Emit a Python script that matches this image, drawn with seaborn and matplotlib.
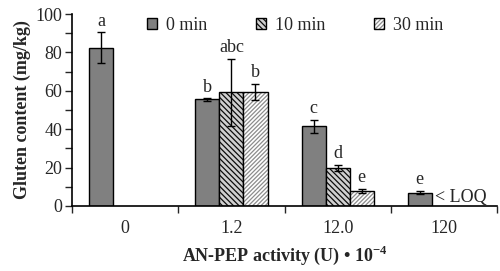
import numpy as np
import pandas as pd
import seaborn as sns
import matplotlib.pyplot as plt
from matplotlib.patches import Patch
from matplotlib.ticker import MultipleLocator, FixedLocator

# Chart data
activities = ['0', '1.2', '12.0', '120']
times = ['0 min', '10 min', '30 min']
gluten_0min = [82.5, 55.5, 41.5, 7.0]
gluten_10min = [np.nan, 59.2, 19.8, np.nan]
gluten_30min = [np.nan, 59.5, 7.8, np.nan]
err_0min = [8.0, 0.6, 3.5, 1.0]
err_10min = [np.nan, 17.5, 1.5, np.nan]
err_30min = [np.nan, 4.3, 1.3, np.nan]
letters_0min = ['a', 'b', 'c', 'e']
letters_10min = ['', 'abc', 'd', '']
letters_30min = ['', 'b', 'e', '']

values = {'0 min': gluten_0min, '10 min': gluten_10min, '30 min': gluten_30min}
errors = {'0 min': err_0min, '10 min': err_10min, '30 min': err_30min}
letters = {'0 min': letters_0min, '10 min': letters_10min, '30 min': letters_30min}

rows = []
for t in times:
    for i, a in enumerate(activities):
        rows.append({'activity': a, 'time': t, 'gluten': values[t][i]})
df = pd.DataFrame(rows)

sns.set_style('white')
plt.rcParams['font.family'] = ['Liberation Serif', 'DejaVu Serif']
plt.rcParams['mathtext.fontset'] = 'custom'
plt.rcParams['mathtext.rm'] = 'Liberation Serif'
plt.rcParams['mathtext.bf'] = 'Liberation Serif:bold'
plt.rcParams['hatch.linewidth'] = 0.9

FS = 13

fig = plt.figure(figsize=(5, 2.71), dpi=100)
ax = fig.add_axes([0.144, 0.240, 0.850, 0.708])

sns.barplot(data=df, x='activity', y='gluten', hue='time', order=activities,
            hue_order=times, width=0.68, errorbar=None, ax=ax,
            palette=['#808080', 'white', 'white'], edgecolor='black',
            linewidth=1.0, saturation=1, legend=False)

styles = {'0 min': ('#808080', None, (0, 0, 0, 1)),
          '10 min': ('#d0d0d0', '\\\\\\\\\\\\', (0.05, 0.05, 0.05, 1)),
          '30 min': ('white', '////////', (0.55, 0.55, 0.55, 1))}


def style_patch(p, t):
    face, hatch, hcol = styles[t]
    p.set_facecolor(face)
    p.set_edgecolor('black')
    if hatch:
        p.set_hatch(hatch)
        p._hatch_color = hcol


for t, cont in zip(times, ax.containers):
    for bar in cont:
        style_patch(bar, t)
        xc = bar.get_x() + bar.get_width() / 2
        i = int(round(xc))
        v = values[t][i]
        if np.isnan(v):
            continue
        e = errors[t][i]
        ax.errorbar(xc, v, yerr=e, fmt='none', ecolor='black', elinewidth=1,
                    capsize=3, capthick=1)
        ax.annotate(letters[t][i], (xc, v + e), xytext=(0, 2),
                    textcoords='offset points', ha='center', va='bottom',
                    fontsize=FS)
        if activities[i] == '120':
            ax.annotate('< LOQ', (bar.get_x() + bar.get_width(), 0),
                        xytext=(2, 0), textcoords='offset points',
                        ha='left', va='bottom', fontsize=FS)

ax.set_ylim(0, 100)
ax.set_xlim(-0.5, 3.5)
ax.yaxis.set_major_locator(MultipleLocator(20))
ax.yaxis.set_minor_locator(MultipleLocator(10))
ax.xaxis.set_major_locator(FixedLocator([0, 1, 2, 3]))
ax.set_xticklabels(activities)
ax.xaxis.set_minor_locator(FixedLocator([-0.5, 0.5, 1.5, 2.5, 3.5]))
ax.tick_params(axis='x', which='major', length=0, labelsize=FS, pad=10)
ax.tick_params(axis='x', which='minor', length=5, width=1, direction='out', bottom=True)
ax.tick_params(axis='y', which='both', length=5, width=1, direction='out', left=True,
               labelsize=FS, pad=2)

for s in ['top', 'right']:
    ax.spines[s].set_visible(False)
for s in ['left', 'bottom']:
    ax.spines[s].set_color('black')
    ax.spines[s].set_linewidth(1.2)

ax.set_ylabel('Gluten content (mg/kg)', fontsize=FS, fontweight='bold', labelpad=3)
ax.set_xlabel('AN-PEP activity (U) \u2022 10$^{\\mathbf{-4}}$', fontsize=FS,
              fontweight='bold', labelpad=5)

handles = []
for t in times:
    h = Patch(label=t, linewidth=1.0)
    style_patch(h, t)
    handles.append(h)
ax.legend(handles=handles, loc='upper center', bbox_to_anchor=(0.525, 1.07), ncol=3,
          frameon=False, fontsize=FS, handlelength=0.55, handleheight=0.55,
          handletextpad=0.5, columnspacing=2.7)

fig.savefig('out.png', dpi=100)
